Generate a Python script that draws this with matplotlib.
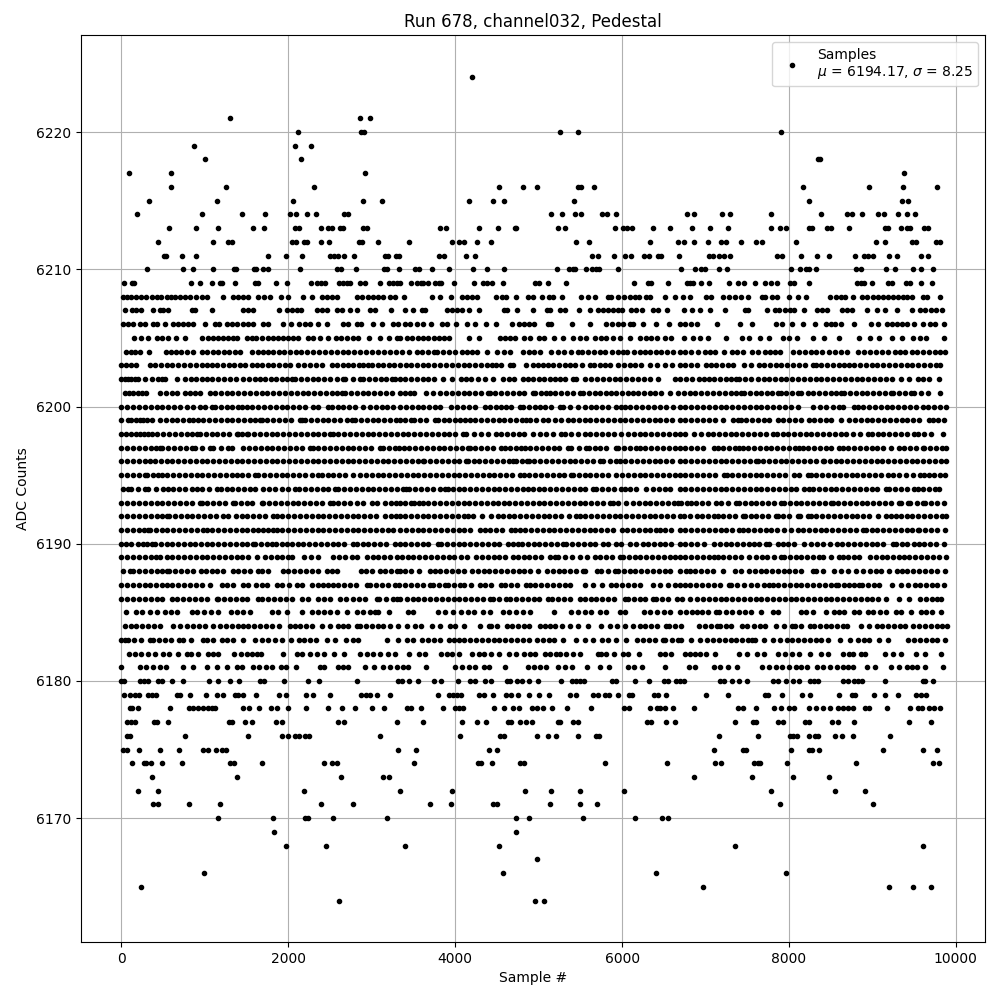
import numpy as np
import matplotlib
matplotlib.use("Agg")
import matplotlib.pyplot as plt

# sample numbers, one list per ADC level
# dense rows are resolved only to about one marker width
x_6224 = [4196]
x_6221 = [1304, 2856, 2984]
x_6220 = [2120, 2868, 2912, 5256, 5472, 7908]
x_6219 = [872, 2084, 2276]
x_6218 = [1004, 2156, 8352, 8376]
x_6217 = [92, 596, 2924, 9384]
x_6216 = [596, 1256, 2312, 4520, 4808, 4976, 5472, 5508, 5664, 8172, 8964, 9372, 9780]
x_6215 = [332, 1148, 2060, 2900, 3128, 4160, 4448, 4580, 5424, 8244, 9360, 9432]
x_6214 = [188, 968, 1448, 1724, 2024, 2096, 2228, 2336, 2672, 2712, 5144, 5280, 5436, 5508, 5760, 5820, 5928, 6780, 6864, 7200, 7296, 7788, 8388, 8700, 8760, 8880, 9072, 9144, 9312, 9420, 9516]
x_6213 = [572, 896, 1160, 1580, 1712, 2084, 2132, 2396, 2480, 2528, 2624, 2660, 2900, 2940, 3812, 3884, 4280, 4508, 4712, 4728, 5232, 5316, 5916, 6012, 6060, 6120, 6372, 6576, 6840, 7056, 7272, 7788, 7896, 7968, 8244, 8280, 8460, 8508, 8724, 9156, 9192, 9348, 9420, 9456, 9624, 9672]
x_6212 = [440, 1100, 1280, 1328, 2048, 2096, 2192, 2228, 2396, 2492, 2852, 2888, 3080, 3452, 3956, 4040, 4100, 4256, 4424, 5448, 5604, 6336, 6672, 6744, 6864, 7032, 7188, 7248, 7428, 7608, 7680, 8088, 9048, 9156, 9480, 9528, 9768, 9816]
x_6211 = [512, 528, 728, 896, 1760, 1976, 2168, 2504, 2552, 2600, 2672, 2792, 3160, 3196, 3296, 3328, 3800, 3860, 4124, 4232, 5640, 5712, 5904, 6036, 6108, 6264, 6324, 6432, 6468, 6684, 7044, 7092, 7164, 7224, 7296, 7860, 7920, 8148, 8340, 8484, 8796, 8904, 8952, 9012, 9204, 9300, 9588, 9672]
x_6210 = [308, 740, 860, 1100, 1352, 1376, 1592, 1616, 1700, 1760, 2144, 2588, 2636, 2816, 3152, 3188, 3332, 3524, 3564, 3716, 3920, 4208, 4376, 4580, 5220, 5364, 5412, 5436, 5568, 5640, 5688, 5724, 5952, 6708, 6876, 6948, 6996, 7164, 7260, 8028, 8136, 8208, 8244, 8328, 8808, 8868, 9168, 9276, 9492, 9588, 9732]
x_6209 = [32, 128, 152, 836, 944, 1088, 1184, 1208, 1364, 1604, 1640, 1856, 1988, 2276, 2348, 2396, 2444, 2612, 2660, 2708, 2744, 2864, 2924, 3104, 3212, 3260, 3308, 3344, 3476, 3540, 3588, 3620, 3680, 3752, 3800, 3824, 3980, 4220, 4328, 4376, 4436, 4568, 4952, 5000, 5112, 5328, 6144, 6312, 6348, 6552, 6780, 6816, 6852, 6948, 7044, 7284, 7392, 7464, 7596, 7716, 7788, 7860, 8016, 8064, 8244, 8820, 8868, 8904, 9000, 9192, 9240, 9408, 9456, 9588, 9720]
x_6208 = [20, 70, 120, 172, 236, 300, 360, 420, 472, 540, 590, 640, 700, 760, 820, 890, 960, 1028, 1216, 1340, 1400, 1460, 1520, 1640, 1710, 1780, 1912, 2000, 2180, 2280, 2400, 2460, 2520, 2588, 2820, 2880, 2950, 3020, 3080, 3140, 3220, 3280, 3392, 3716, 3820, 3944, 4080, 4140, 4200, 4260, 4488, 4560, 4604, 4724, 4868, 4932, 5044, 5124, 5172, 5280, 5512, 5590, 5672, 5832, 5872, 5952, 6020, 6090, 6152, 6204, 6292, 6340, 6516, 6636, 6732, 6816, 7004, 7068, 7212, 7280, 7350, 7420, 7512, 7680, 7716, 7800, 7852, 8004, 8112, 8208, 8492, 8560, 8620, 8672, 8772, 8880, 8932, 9012, 9070, 9130, 9190, 9250, 9310, 9370, 9420, 9472, 9612, 9660, 9816]
x_6207 = [44, 128, 180, 240, 380, 460, 500, 560, 840, 880, 1080, 1460, 1520, 1572, 1892, 1988, 2040, 2100, 2148, 2340, 2400, 2460, 2580, 2640, 2740, 2820, 2980, 3040, 3236, 3400, 3492, 3600, 3640, 3900, 3960, 4020, 4080, 4160, 4280, 4580, 4620, 4736, 4932, 5100, 5140, 5252, 5312, 5484, 5612, 5712, 5772, 5832, 5892, 5950, 6004, 6104, 6172, 6244, 6372, 6432, 6536, 6744, 6840, 6932, 7052, 7232, 7472, 7512, 7736, 7832, 7884, 7952, 8012, 8064, 8184, 8332, 8392, 8460, 8632, 8692, 8752, 8932, 9052, 9152, 9292, 9472, 9572, 9632, 9700, 9760, 9832]
x_6206 = [20, 80, 140, 220, 280, 380, 428, 524, 612, 676, 740, 800, 860, 1004, 1120, 1172, 1260, 1320, 1388, 1460, 1520, 1572, 1692, 1760, 1940, 2036, 2124, 2200, 2260, 2360, 2468, 2660, 2720, 2820, 2876, 3020, 3128, 3252, 3320, 3400, 3460, 3540, 3620, 3708, 3840, 3900, 4004, 4140, 4232, 4364, 4488, 4676, 4760, 4820, 4880, 4948, 5112, 5152, 5404, 5612, 5812, 5880, 5950, 6012, 6092, 6132, 6252, 6408, 6564, 6692, 6760, 6832, 6900, 7132, 7412, 7552, 7848, 7920, 8040, 8172, 8312, 8444, 8500, 8552, 8624, 8784, 8988, 9072, 9180, 9240, 9300, 9360, 9412, 9504, 9612, 9692, 9752, 9864]
x_6205 = [152, 236, 320, 428, 480, 560, 652, 760, 968, 1040, 1100, 1160, 1220, 1280, 1340, 1380, 1500, 1560, 1612, 1680, 1760, 1820, 1880, 1940, 2000, 2060, 2120, 2240, 2300, 2380, 2480, 2568, 2628, 2708, 2780, 2840, 2964, 3100, 3212, 3300, 3340, 3420, 3480, 3560, 3620, 3680, 3740, 3800, 3860, 3920, 4160, 4280, 4540, 4600, 4652, 4720, 4820, 4892, 5000, 5064, 5184, 5292, 5412, 5492, 5572, 5676, 5752, 5812, 5892, 5980, 6092, 6212, 6292, 6352, 6420, 6512, 6592, 6744, 6852, 6932, 7032, 7240, 7432, 7524, 7656, 7764, 7932, 8004, 8100, 8292, 8420, 8604, 8844, 8972, 9084, 9240, 9352, 9492, 9572, 9648, 9864]
x_6204 = [60, 110, 165, 220, 332, 528, 590, 650, 715, 780, 852, 960, 1030, 1095, 1160, 1225, 1290, 1355, 1420, 1560, 1640, 1700, 1760, 1820, 1885, 1950, 2020, 2090, 2155, 2220, 2300, 2370, 2440, 2510, 2585, 2660, 2720, 2790, 2860, 2930, 3005, 3075, 3150, 3220, 3288, 3360, 3450, 3540, 3600, 3670, 3740, 3780, 3850, 3920, 4000, 4080, 4140, 4200, 4260, 4380, 4500, 4580, 4660, 4812, 4880, 4950, 5012, 5152, 5230, 5310, 5390, 5472, 5520, 5590, 5660, 5730, 5792, 5884, 5950, 6012, 6060, 6144, 6210, 6275, 6340, 6405, 6472, 6540, 6612, 6692, 6752, 6830, 6912, 6992, 7050, 7112, 7224, 7312, 7380, 7452, 7552, 7630, 7712, 7772, 7830, 7892, 8052, 8120, 8190, 8260, 8330, 8400, 8475, 8550, 8620, 8692, 8832, 8900, 8970, 9040, 9115, 9192, 9272, 9330, 9392, 9472, 9540, 9610, 9680, 9750, 9810, 9872]
x_6203 = [0, 60, 120, 180, 340, 405, 470, 540, 610, 680, 750, 820, 890, 960, 1030, 1085, 1140, 1220, 1285, 1350, 1415, 1480, 1560, 1625, 1690, 1755, 1820, 1890, 1955, 2020, 2120, 2190, 2260, 2330, 2400, 2520, 2585, 2650, 2715, 2780, 2845, 2900, 2960, 3000, 3070, 3135, 3205, 3270, 3340, 3405, 3470, 3540, 3610, 3680, 3745, 3812, 3892, 3960, 4030, 4100, 4170, 4240, 4310, 4380, 4440, 4492, 4552, 4652, 4692, 4852, 4932, 4992, 5050, 5112, 5172, 5240, 5312, 5372, 5432, 5520, 5612, 5660, 5732, 5790, 5852, 5952, 6020, 6090, 6160, 6230, 6332, 6420, 6512, 6600, 6692, 6760, 6830, 6900, 7004, 7064, 7130, 7200, 7264, 7332, 7464, 7550, 7644, 7704, 7770, 7840, 7910, 7980, 8050, 8120, 8190, 8284, 8324, 8390, 8460, 8530, 8600, 8664, 8724, 8784, 8850, 8920, 8990, 9060, 9130, 9200, 9270, 9340, 9410, 9480, 9550, 9620, 9690, 9764, 9808]
x_6202 = [0, 40, 80, 120, 160, 200, 280, 360, 440, 480, 520, 668, 760, 830, 895, 960, 1020, 1090, 1160, 1230, 1300, 1372, 1452, 1525, 1600, 1660, 1725, 1790, 1855, 1920, 1980, 2040, 2080, 2150, 2220, 2290, 2360, 2430, 2500, 2580, 2660, 2680, 2770, 2860, 2900, 2970, 3040, 3110, 3175, 3240, 3280, 3340, 3400, 3470, 3540, 3610, 3680, 3750, 3852, 3960, 4072, 4130, 4192, 4272, 4352, 4452, 4572, 4640, 4710, 4812, 4872, 4932, 5000, 5070, 5140, 5200, 5252, 5312, 5412, 5452, 5552, 5632, 5700, 5770, 5840, 5910, 5980, 6050, 6120, 6190, 6260, 6330, 6432, 6632, 6692, 6764, 6840, 6924, 6984, 7044, 7104, 7170, 7240, 7300, 7364, 7404, 7470, 7544, 7624, 7704, 7764, 7830, 7900, 7970, 8040, 8110, 8180, 8250, 8320, 8390, 8460, 8530, 8600, 8670, 8740, 8810, 8880, 8950, 9020, 9090, 9160, 9230, 9344, 9436, 9544, 9610, 9680, 9804]
x_6201 = [40, 90, 140, 200, 250, 300, 460, 530, 600, 660, 760, 820, 880, 940, 1060, 1120, 1190, 1260, 1330, 1400, 1470, 1540, 1610, 1680, 1750, 1820, 1890, 1960, 2030, 2100, 2170, 2240, 2310, 2380, 2450, 2520, 2580, 2640, 2680, 2750, 2820, 2890, 2960, 3030, 3100, 3170, 3240, 3340, 3400, 3460, 3512, 3652, 3732, 3812, 3892, 3960, 4030, 4100, 4170, 4240, 4310, 4392, 4412, 4480, 4550, 4620, 4690, 4760, 4830, 4932, 4960, 5030, 5092, 5132, 5200, 5270, 5340, 5410, 5492, 5532, 5600, 5670, 5740, 5810, 5872, 5932, 6000, 6070, 6132, 6192, 6260, 6330, 6400, 6470, 6572, 6676, 6744, 6810, 6880, 6950, 7020, 7090, 7160, 7230, 7300, 7370, 7424, 7464, 7530, 7600, 7670, 7740, 7800, 7864, 7904, 7970, 8040, 8104, 8144, 8224, 8290, 8360, 8430, 8500, 8570, 8624, 8664, 8730, 8800, 8870, 8940, 9010, 9080, 9150, 9224, 9252, 9320, 9390, 9464, 9504, 9580, 9664, 9812]
x_6200 = [0, 70, 140, 210, 280, 350, 420, 490, 560, 630, 700, 788, 860, 940, 1000, 1080, 1120, 1190, 1260, 1330, 1400, 1440, 1500, 1570, 1640, 1710, 1780, 1850, 1920, 1990, 2060, 2130, 2200, 2300, 2360, 2472, 2520, 2590, 2660, 2730, 2800, 2900, 2980, 3050, 3120, 3180, 3260, 3340, 3410, 3480, 3550, 3620, 3690, 3760, 3812, 3952, 4020, 4090, 4160, 4232, 4352, 4420, 4490, 4550, 4612, 4672, 4772, 4812, 4880, 4952, 5012, 5080, 5150, 5252, 5292, 5380, 5472, 5552, 5632, 5692, 5760, 5830, 5932, 5992, 6032, 6100, 6170, 6240, 6310, 6380, 6452, 6532, 6610, 6692, 6760, 6830, 6900, 6970, 7040, 7110, 7180, 7250, 7320, 7390, 7460, 7530, 7600, 7670, 7740, 7810, 7880, 7950, 8020, 8104, 8292, 8370, 8450, 8530, 8604, 8652, 8784, 8824, 8890, 8960, 9030, 9100, 9170, 9240, 9310, 9380, 9450, 9520, 9604, 9664, 9740, 9810, 9884]
x_6199 = [0, 80, 120, 170, 220, 260, 310, 360, 460, 530, 600, 670, 740, 810, 860, 920, 980, 1050, 1120, 1190, 1260, 1330, 1400, 1470, 1540, 1600, 1660, 1680, 1750, 1820, 1890, 1960, 2030, 2140, 2160, 2200, 2270, 2340, 2410, 2480, 2550, 2620, 2700, 2760, 2800, 2870, 2940, 3010, 3080, 3150, 3220, 3290, 3340, 3400, 3472, 3512, 3580, 3650, 3752, 3792, 3860, 3930, 4000, 4060, 4112, 4172, 4240, 4310, 4380, 4450, 4520, 4590, 4660, 4730, 4800, 4852, 4892, 4970, 5052, 5112, 5192, 5270, 5352, 5412, 5480, 5550, 5620, 5690, 5760, 5830, 5900, 5970, 6040, 6110, 6180, 6250, 6320, 6390, 6460, 6530, 6600, 6692, 6760, 6830, 6900, 6970, 7040, 7110, 7204, 7324, 7384, 7424, 7490, 7560, 7630, 7700, 7764, 7864, 7930, 8000, 8070, 8140, 8244, 8304, 8370, 8440, 8510, 8624, 8724, 8790, 8860, 8930, 9000, 9070, 9140, 9210, 9280, 9350, 9420, 9490, 9560, 9684, 9724, 9790, 9864]
x_6198 = [0, 60, 120, 180, 220, 270, 320, 360, 430, 500, 570, 640, 710, 780, 840, 900, 940, 1010, 1080, 1150, 1220, 1290, 1380, 1400, 1450, 1500, 1520, 1590, 1660, 1730, 1800, 1870, 1940, 2010, 2080, 2150, 2220, 2290, 2360, 2430, 2500, 2530, 2600, 2670, 2740, 2810, 2880, 2950, 3020, 3090, 3160, 3230, 3300, 3370, 3440, 3510, 3580, 3650, 3720, 3790, 3860, 3930, 4000, 4092, 4132, 4220, 4312, 4392, 4484, 4550, 4620, 4690, 4760, 4830, 4932, 5012, 5092, 5172, 5272, 5312, 5390, 5472, 5552, 5620, 5690, 5760, 5830, 5900, 5992, 6072, 6140, 6210, 6280, 6350, 6420, 6490, 6560, 6630, 6692, 6760, 6864, 6952, 7024, 7090, 7160, 7230, 7300, 7370, 7440, 7510, 7580, 7650, 7720, 7804, 7852, 7924, 7990, 8060, 8130, 8200, 8270, 8340, 8410, 8480, 8550, 8620, 8684, 8764, 8850, 8944, 8996, 9064, 9130, 9200, 9270, 9340, 9410, 9504, 9544, 9620, 9704, 9844]
x_6197 = [0, 70, 140, 210, 280, 350, 410, 460, 490, 560, 630, 700, 770, 840, 880, 970, 1060, 1100, 1190, 1280, 1320, 1460, 1530, 1600, 1670, 1740, 1810, 1880, 1950, 2020, 2090, 2160, 2260, 2290, 2360, 2430, 2500, 2570, 2640, 2710, 2780, 2850, 2920, 2990, 3100, 3140, 3210, 3280, 3332, 3392, 3452, 3520, 3590, 3660, 3730, 3800, 3870, 3940, 4010, 4080, 4152, 4172, 4240, 4310, 4380, 4450, 4552, 4592, 4660, 4730, 4792, 4832, 4900, 4970, 5040, 5110, 5180, 5250, 5352, 5392, 5480, 5572, 5604, 5670, 5740, 5810, 5932, 5952, 6020, 6090, 6172, 6212, 6280, 6350, 6420, 6490, 6560, 6630, 6692, 6760, 6830, 6900, 6970, 7104, 7144, 7210, 7280, 7350, 7404, 7444, 7510, 7580, 7650, 7720, 7790, 7860, 7930, 8000, 8070, 8124, 8164, 8230, 8300, 8370, 8440, 8510, 8604, 8644, 8710, 8780, 8850, 8920, 8990, 9060, 9130, 9224, 9316, 9380, 9450, 9520, 9604, 9624, 9690, 9760, 9830, 9884]
x_6196 = [0, 70, 140, 210, 280, 340, 400, 470, 540, 610, 680, 750, 820, 890, 960, 1030, 1100, 1170, 1240, 1310, 1380, 1450, 1520, 1590, 1660, 1730, 1800, 1870, 1940, 2010, 2080, 2150, 2220, 2290, 2360, 2430, 2500, 2570, 2640, 2710, 2780, 2850, 2920, 2990, 3060, 3130, 3200, 3270, 3340, 3410, 3480, 3550, 3612, 3632, 3700, 3770, 3840, 3910, 3980, 4050, 4132, 4152, 4220, 4290, 4360, 4430, 4500, 4570, 4640, 4692, 4732, 4800, 4860, 4884, 4950, 5020, 5090, 5160, 5230, 5300, 5370, 5440, 5510, 5580, 5650, 5732, 5772, 5850, 5932, 5972, 6040, 6110, 6180, 6250, 6320, 6390, 6460, 6530, 6600, 6692, 6760, 6830, 6900, 6970, 7040, 7110, 7180, 7250, 7320, 7390, 7460, 7530, 7604, 7624, 7690, 7760, 7830, 7900, 7970, 8040, 8110, 8180, 8250, 8320, 8404, 8424, 8490, 8560, 8630, 8700, 8770, 8840, 8910, 8980, 9050, 9120, 9190, 9260, 9330, 9400, 9470, 9540, 9610, 9680, 9750, 9820, 9884]
x_6195 = [0, 70, 140, 210, 280, 310, 375, 440, 480, 550, 620, 690, 760, 830, 900, 970, 1040, 1110, 1180, 1250, 1320, 1380, 1440, 1520, 1600, 1640, 1710, 1780, 1850, 1920, 1990, 2060, 2130, 2200, 2280, 2360, 2400, 2470, 2540, 2610, 2680, 2780, 2860, 2930, 3000, 3070, 3140, 3210, 3280, 3350, 3420, 3490, 3560, 3630, 3700, 3770, 3840, 3910, 3980, 4050, 4120, 4190, 4260, 4330, 4400, 4470, 4540, 4610, 4680, 4772, 4824, 4890, 4960, 5030, 5100, 5170, 5240, 5310, 5392, 5412, 5480, 5550, 5620, 5690, 5760, 5830, 5932, 6000, 6070, 6140, 6210, 6280, 6350, 6420, 6490, 6560, 6630, 6692, 6760, 6830, 6900, 6970, 7040, 7110, 7224, 7252, 7320, 7390, 7460, 7530, 7600, 7670, 7740, 7810, 7880, 7950, 8064, 8116, 8224, 8264, 8330, 8400, 8470, 8540, 8610, 8680, 8750, 8820, 8890, 8960, 9030, 9100, 9192, 9244, 9320, 9400, 9490, 9572, 9624, 9684, 9744, 9810, 9876]
x_6194 = [20, 80, 120, 200, 280, 320, 410, 500, 552, 620, 690, 760, 840, 900, 970, 1050, 1140, 1188, 1260, 1330, 1400, 1470, 1540, 1600, 1700, 1770, 1840, 1920, 2000, 2080, 2128, 2200, 2270, 2340, 2410, 2480, 2560, 2600, 2670, 2740, 2810, 2880, 2950, 3020, 3090, 3160, 3230, 3300, 3370, 3412, 3452, 3520, 3590, 3660, 3730, 3812, 3872, 3912, 3972, 4040, 4110, 4180, 4250, 4320, 4390, 4460, 4530, 4600, 4670, 4740, 4810, 4872, 4932, 5000, 5070, 5140, 5210, 5280, 5350, 5420, 5490, 5560, 5652, 5692, 5760, 5830, 5900, 5992, 6032, 6100, 6170, 6292, 6372, 6440, 6510, 6580, 6692, 6760, 6830, 6900, 6970, 7040, 7110, 7180, 7250, 7320, 7390, 7460, 7530, 7600, 7670, 7740, 7810, 7880, 7950, 8020, 8090, 8184, 8244, 8284, 8364, 8430, 8500, 8570, 8640, 8710, 8780, 8850, 8920, 8990, 9060, 9164, 9196, 9270, 9340, 9410, 9504, 9544, 9610, 9680, 9750, 9804]
x_6193 = [0, 70, 140, 210, 280, 350, 420, 490, 560, 630, 700, 770, 840, 940, 960, 1030, 1100, 1170, 1240, 1340, 1360, 1430, 1500, 1570, 1680, 1700, 1770, 1840, 1910, 1980, 2050, 2120, 2190, 2260, 2330, 2400, 2500, 2530, 2600, 2670, 2740, 2820, 2900, 3000, 3060, 3160, 3230, 3292, 3340, 3400, 3472, 3512, 3572, 3612, 3680, 3750, 3820, 3890, 3960, 4030, 4100, 4170, 4240, 4310, 4380, 4452, 4512, 4580, 4650, 4720, 4790, 4860, 4930, 5000, 5070, 5140, 5210, 5280, 5350, 5420, 5490, 5560, 5630, 5700, 5770, 5852, 5892, 5952, 6052, 6132, 6204, 6270, 6340, 6410, 6480, 6550, 6620, 6672, 6704, 6784, 6824, 6890, 6960, 7030, 7124, 7184, 7270, 7364, 7404, 7470, 7540, 7610, 7680, 7750, 7820, 7904, 7944, 8010, 8080, 8150, 8220, 8290, 8360, 8430, 8504, 8524, 8590, 8660, 8730, 8800, 8870, 8940, 9010, 9080, 9150, 9220, 9316, 9344, 9424, 9452, 9530, 9604, 9636, 9700, 9770, 9864]
x_6192 = [0, 70, 140, 210, 280, 350, 420, 480, 540, 572, 640, 710, 780, 850, 920, 990, 1060, 1130, 1220, 1280, 1372, 1440, 1510, 1580, 1650, 1720, 1820, 1860, 1930, 2000, 2070, 2140, 2210, 2280, 2350, 2420, 2490, 2560, 2630, 2700, 2770, 2840, 2910, 2980, 3050, 3160, 3228, 3290, 3340, 3400, 3470, 3540, 3610, 3680, 3750, 3820, 3890, 3960, 4030, 4100, 4152, 4212, 4320, 4432, 4512, 4572, 4640, 4710, 4780, 4850, 4920, 4990, 5060, 5130, 5192, 5272, 5360, 5444, 5492, 5560, 5630, 5700, 5770, 5840, 5910, 5980, 6050, 6120, 6190, 6260, 6330, 6400, 6470, 6540, 6610, 6692, 6744, 6810, 6904, 6964, 7030, 7104, 7144, 7210, 7280, 7350, 7444, 7476, 7540, 7610, 7680, 7750, 7844, 7864, 7930, 8000, 8104, 8132, 8224, 8264, 8330, 8400, 8470, 8540, 8610, 8680, 8750, 8820, 8890, 8960, 9064, 9164, 9224, 9284, 9344, 9410, 9480, 9550, 9620, 9690, 9760, 9830, 9884]
x_6191 = [0, 70, 140, 210, 270, 320, 340, 410, 480, 550, 620, 690, 760, 830, 900, 980, 1020, 1090, 1160, 1230, 1300, 1370, 1440, 1510, 1580, 1640, 1700, 1760, 1820, 1860, 1930, 2000, 2070, 2140, 2210, 2280, 2350, 2420, 2490, 2560, 2630, 2700, 2770, 2840, 2910, 2980, 3050, 3120, 3190, 3260, 3340, 3410, 3480, 3550, 3620, 3690, 3760, 3830, 3900, 3970, 4040, 4110, 4180, 4292, 4352, 4420, 4490, 4560, 4672, 4716, 4772, 4840, 4910, 4980, 5050, 5120, 5190, 5260, 5330, 5400, 5470, 5540, 5610, 5680, 5750, 5820, 5890, 6004, 6060, 6130, 6200, 6270, 6340, 6412, 6452, 6520, 6590, 6692, 6760, 6830, 6900, 6970, 7040, 7110, 7180, 7250, 7320, 7404, 7444, 7510, 7580, 7650, 7720, 7790, 7860, 7944, 8024, 8104, 8170, 8240, 8310, 8380, 8450, 8520, 8590, 8660, 8730, 8800, 8884, 8924, 8990, 9060, 9130, 9200, 9270, 9340, 9410, 9480, 9544, 9564, 9630, 9700, 9770, 9876]
x_6190 = [0, 60, 120, 200, 260, 310, 360, 400, 470, 540, 610, 680, 750, 820, 880, 950, 1020, 1090, 1160, 1230, 1300, 1370, 1440, 1510, 1580, 1600, 1670, 1740, 1800, 1852, 1920, 1980, 2040, 2110, 2180, 2250, 2320, 2390, 2460, 2530, 2600, 2670, 2780, 2820, 2890, 2960, 3030, 3100, 3170, 3280, 3340, 3400, 3470, 3540, 3610, 3680, 3792, 3832, 3900, 3970, 4040, 4110, 4180, 4250, 4320, 4390, 4460, 4530, 4632, 4692, 4752, 4804, 4870, 4940, 5010, 5080, 5150, 5220, 5292, 5332, 5400, 5470, 5540, 5610, 5680, 5772, 5832, 5924, 5990, 6092, 6164, 6252, 6312, 6380, 6450, 6520, 6590, 6692, 6760, 6830, 6900, 6984, 7104, 7170, 7240, 7310, 7380, 7450, 7520, 7584, 7636, 7724, 7756, 7864, 7924, 7990, 8060, 8184, 8264, 8340, 8412, 8492, 8576, 8640, 8710, 8780, 8850, 8920, 8990, 9060, 9130, 9244, 9284, 9350, 9420, 9504, 9556, 9620, 9690, 9760, 9864]
x_6189 = [0, 70, 140, 210, 280, 350, 410, 460, 540, 610, 680, 750, 820, 890, 960, 1030, 1100, 1170, 1240, 1310, 1380, 1450, 1520, 1620, 1720, 1790, 1860, 1930, 2000, 2040, 2190, 2270, 2360, 2540, 2610, 2680, 2760, 2828, 2940, 3010, 3080, 3150, 3220, 3300, 3360, 3430, 3500, 3570, 3640, 3710, 3780, 3850, 3920, 3990, 4072, 4140, 4252, 4320, 4390, 4460, 4530, 4600, 4692, 4752, 4820, 4890, 4960, 5030, 5132, 5192, 5232, 5312, 5400, 5492, 5580, 5672, 5740, 5810, 5880, 5972, 6012, 6080, 6150, 6220, 6290, 6360, 6430, 6500, 6570, 6640, 6692, 6760, 6830, 6900, 6970, 7040, 7104, 7144, 7210, 7280, 7350, 7420, 7524, 7604, 7676, 7740, 7820, 7904, 7944, 8010, 8080, 8150, 8220, 8290, 8364, 8412, 8500, 8604, 8644, 8710, 8780, 8844, 8972, 9044, 9110, 9180, 9250, 9320, 9384, 9444, 9510, 9580, 9650, 9724, 9796, 9884]
x_6188 = [20, 100, 140, 210, 280, 350, 420, 490, 540, 572, 640, 710, 780, 860, 948, 1010, 1080, 1150, 1220, 1340, 1400, 1470, 1540, 1632, 1690, 1752, 1932, 2000, 2070, 2140, 2210, 2280, 2350, 2460, 2520, 2580, 2868, 2930, 3000, 3100, 3160, 3230, 3300, 3340, 3400, 3470, 3572, 3700, 3752, 3820, 3890, 3960, 4030, 4100, 4204, 4272, 4340, 4410, 4480, 4550, 4620, 4690, 4760, 4830, 4900, 4992, 5100, 5170, 5240, 5310, 5380, 5450, 5532, 5552, 5700, 5752, 5830, 5912, 5952, 6020, 6090, 6160, 6230, 6300, 6370, 6440, 6510, 6580, 6692, 6764, 6812, 6880, 6950, 7020, 7090, 7204, 7352, 7424, 7516, 7590, 7660, 7730, 7800, 7870, 7944, 7996, 8070, 8140, 8284, 8324, 8412, 8544, 8620, 8704, 8804, 8890, 8972, 9044, 9104, 9200, 9292, 9352, 9420, 9490, 9560, 9630, 9700, 9770, 9876]
x_6187 = [0, 70, 140, 210, 280, 340, 410, 480, 540, 610, 680, 750, 820, 890, 960, 1060, 1200, 1270, 1340, 1460, 1520, 1612, 1680, 1750, 1860, 1920, 2010, 2100, 2168, 2280, 2350, 2420, 2480, 2540, 2600, 2670, 2740, 2810, 2940, 2980, 3050, 3120, 3190, 3280, 3332, 3400, 3470, 3540, 3610, 3692, 3732, 3800, 3872, 3912, 3980, 4052, 4100, 4192, 4292, 4360, 4430, 4552, 4600, 4670, 4740, 4852, 4892, 4960, 5030, 5100, 5170, 5240, 5312, 5380, 5560, 5652, 5764, 5872, 5932, 6000, 6070, 6140, 6212, 6372, 6450, 6552, 6632, 6692, 6750, 6820, 6890, 6960, 7030, 7100, 7170, 7284, 7304, 7380, 7464, 7540, 7620, 7704, 7764, 7804, 7870, 7940, 8010, 8080, 8150, 8220, 8290, 8360, 8430, 8500, 8564, 8584, 8664, 8716, 8780, 8836, 8876, 8950, 9020, 9084, 9236, 9344, 9424, 9516, 9572, 9640, 9710, 9780, 9864]
x_6186 = [0, 70, 140, 210, 280, 350, 420, 490, 600, 670, 740, 810, 880, 950, 1020, 1140, 1160, 1230, 1300, 1370, 1440, 1510, 1640, 1688, 1760, 1830, 1900, 1970, 2040, 2160, 2240, 2360, 2430, 2500, 2620, 2688, 2780, 2850, 2920, 3060, 3092, 3170, 3260, 3300, 3340, 3420, 3490, 3560, 3630, 3700, 3770, 3840, 3910, 3980, 4050, 4120, 4190, 4260, 4330, 4412, 4452, 4530, 4612, 4660, 4730, 4800, 4870, 4940, 5010, 5112, 5160, 5230, 5300, 5370, 5492, 5552, 5632, 5692, 5760, 5830, 5900, 6032, 6072, 6140, 6210, 6280, 6372, 6412, 6480, 6550, 6660, 6724, 6812, 6904, 6970, 7040, 7110, 7180, 7250, 7320, 7390, 7460, 7530, 7600, 7670, 7740, 7810, 7880, 7950, 8020, 8090, 8160, 8230, 8300, 8370, 8440, 8510, 8580, 8650, 8720, 8790, 8860, 8930, 9000, 9070, 9164, 9316, 9436, 9572, 9640, 9710, 9780, 9824]
x_6185 = [60, 180, 252, 340, 420, 520, 590, 660, 840, 910, 990, 1070, 1160, 1308, 1380, 1460, 1540, 1800, 1880, 1980, 2160, 2280, 2350, 2430, 2500, 2588, 2700, 2820, 2900, 2980, 3040, 3080, 3212, 3432, 3492, 3792, 3880, 3972, 4072, 4150, 4220, 4332, 4412, 4572, 4650, 4730, 4810, 4892, 5180, 5392, 5470, 5552, 5632, 5732, 5804, 5972, 6032, 6260, 6340, 6420, 6500, 6580, 6692, 6764, 6844, 6904, 6960, 7024, 7124, 7164, 7244, 7320, 7400, 7470, 7544, 7664, 7804, 7864, 8144, 8204, 8284, 8444, 8544, 8604, 8664, 8784, 8844, 8944, 9012, 9090, 9160, 9284, 9344, 9464, 9584, 9644, 9720, 9824]
x_6184 = [40, 110, 180, 250, 320, 390, 460, 612, 700, 780, 860, 930, 1000, 1092, 1180, 1250, 1320, 1400, 1452, 1520, 1590, 1660, 1730, 1800, 1892, 2020, 2080, 2140, 2210, 2280, 2400, 2500, 2600, 2660, 2720, 2820, 2860, 2930, 3000, 3070, 3140, 3220, 3320, 3420, 3520, 3588, 3716, 3820, 3940, 4000, 4100, 4300, 4400, 4428, 4500, 4620, 4680, 4750, 4820, 4890, 5012, 5072, 5132, 5192, 5280, 5372, 5472, 5592, 5752, 5850, 5940, 6040, 6132, 6212, 6280, 6350, 6420, 6532, 6564, 6640, 6712, 6924, 7000, 7070, 7132, 7172, 7240, 7310, 7432, 7500, 7580, 7652, 7716, 7844, 7940, 8032, 8072, 8150, 8252, 8300, 8370, 8440, 8510, 8580, 8652, 8700, 8868, 8964, 9052, 9120, 9190, 9260, 9330, 9392, 9492, 9560, 9630, 9700, 9770, 9840, 9892]
x_6183 = [0, 40, 80, 152, 240, 340, 380, 452, 520, 590, 692, 740, 836, 980, 1028, 1100, 1200, 1268, 1340, 1452, 1600, 1680, 1760, 1840, 1928, 2036, 2124, 2188, 2260, 2330, 2460, 2560, 2692, 2780, 2840, 3188, 3320, 3420, 3500, 3608, 3680, 3750, 3812, 3920, 3980, 4040, 4110, 4180, 4250, 4320, 4390, 4460, 4530, 4600, 4670, 4740, 4810, 4880, 4980, 5050, 5120, 5190, 5292, 5452, 5550, 5652, 5764, 5832, 5932, 6052, 6180, 6252, 6324, 6400, 6492, 6520, 6600, 6672, 6712, 6824, 6932, 7020, 7092, 7160, 7230, 7300, 7370, 7440, 7512, 7552, 7592, 7704, 7812, 7892, 7972, 8040, 8110, 8180, 8250, 8320, 8390, 8472, 8612, 8732, 8832, 8904, 8964, 9084, 9192, 9432, 9500, 9570, 9640, 9710, 9780, 9872]
x_6182 = [92, 160, 240, 320, 400, 500, 572, 680, 780, 828, 920, 1040, 1100, 1160, 1352, 1436, 1500, 1560, 1620, 1676, 1940, 2100, 2160, 2260, 2340, 2428, 2552, 2672, 2860, 2940, 3020, 3100, 3190, 3280, 3448, 3572, 3644, 3828, 3900, 3960, 4040, 4200, 4280, 4340, 4430, 4520, 4640, 4730, 4820, 4900, 4952, 5072, 5132, 5204, 5252, 5330, 5410, 5492, 5712, 5752, 5812, 5900, 6012, 6072, 6200, 6452, 6520, 6592, 6752, 6812, 6872, 6940, 7004, 7116, 7400, 7500, 7620, 7704, 7872, 7950, 8040, 8124, 8252, 8380, 8464, 8652, 8724, 8772, 8860, 8912, 9152, 9250, 9340, 9524, 9636, 9828]
x_6181 = [0, 220, 300, 380, 460, 532, 740, 860, 1028, 1148, 1268, 1380, 1440, 1572, 1650, 1732, 1808, 1912, 1968, 2088, 2380, 2428, 2600, 2660, 2720, 2924, 3032, 3140, 3220, 3300, 3370, 3440, 3656, 4000, 4080, 4160, 4240, 4340, 4400, 4592, 4872, 4950, 5020, 5092, 5232, 5320, 5404, 5580, 5736, 5844, 6072, 6144, 6240, 6516, 6804, 6880, 7104, 7172, 7270, 7372, 7680, 7764, 7840, 7920, 8000, 8080, 8150, 8212, 8340, 8412, 8490, 8572, 8652, 8710, 8772, 8932, 9036, 9228, 9324, 9412, 9470, 9532, 9636, 9852]
x_6180 = [0, 28, 224, 272, 320, 440, 488, 608, 740, 1052, 1160, 1304, 1412, 1664, 1712, 1952, 2240, 2372, 2828, 3320, 3368, 3452, 3560, 3740, 3824, 4028, 4172, 4232, 4352, 4424, 4616, 4652, 4736, 4796, 4880, 4992, 5268, 5400, 5448, 5496, 5544, 5880, 5928, 6156, 6324, 6504, 6552, 6648, 6696, 6744, 7176, 7224, 7320, 7404, 7500, 7812, 7872, 7968, 8052, 8124, 8256, 8304, 8352, 8652, 8712, 8784, 8832, 8880, 9156, 9612, 9636, 9732]
x_6179 = [32, 104, 164, 212, 320, 368, 416, 668, 704, 824, 1016, 1148, 1220, 1364, 1400, 1460, 1616, 1892, 1976, 2216, 2300, 2504, 2876, 2936, 2984, 3068, 3224, 3788, 3920, 3968, 4016, 4064, 4280, 4340, 4448, 4604, 4664, 4748, 4880, 5000, 5124, 5376, 5448, 5652, 5712, 5796, 5844, 5952, 6084, 6120, 6384, 6432, 6528, 7008, 7272, 7716, 7752, 7920, 8160, 8256, 8604, 8760, 8796, 9024, 9156, 9312, 9528, 9588, 9648]
x_6178 = [104, 128, 200, 584, 812, 860, 920, 980, 1040, 1088, 1124, 1460, 1532, 1648, 1796, 1868, 2000, 2216, 2480, 2648, 2804, 3008, 3144, 3428, 3476, 3588, 3848, 3992, 4040, 4088, 4460, 4580, 4688, 4760, 4920, 4980, 5052, 5160, 5340, 5628, 6024, 6084, 6336, 6420, 6456, 6516, 6616, 6864, 7392, 7452, 7608, 7824, 7908, 8004, 8064, 8244, 8328, 8412, 8496, 8592, 8652, 8712, 8772, 8916, 8964, 9180, 9456, 9552, 9600, 9684, 9744, 9816]
x_6177 = [68, 116, 164, 392, 428, 560, 1292, 1328, 1484, 1568, 1856, 1928, 2600, 2672, 3308, 3620, 4076, 4256, 4364, 4628, 4664, 4772, 4844, 4920, 5232, 5256, 5412, 5472, 6300, 6348, 6528, 6636, 7356, 7572, 7608, 7872, 7932, 8196, 8244, 8520, 8592, 8784, 9444, 9708]
x_6176 = [68, 104, 764, 1520, 1928, 2000, 2084, 2132, 2204, 2252, 3104, 4052, 4532, 4580, 4976, 5112, 5208, 5472, 5688, 5724, 7164, 7632, 8016, 8052, 8100, 8244, 8316, 8352, 8556, 8640, 8772, 9216]
x_6175 = [20, 68, 212, 464, 692, 980, 1040, 1136, 1208, 1256, 3320, 3536, 4400, 4496, 7104, 7452, 7488, 8028, 8244, 8280, 8364, 9132, 9612, 9780]
x_6174 = [128, 272, 296, 356, 488, 728, 1304, 1352, 1688, 2432, 2528, 2588, 3512, 4268, 4304, 4436, 4772, 4820, 5796, 6540, 7116, 7188, 7584, 7632, 7656, 7980, 8808, 9732, 9796]
x_6173 = [368, 1388, 2636, 3140, 3212, 6864, 7560, 8052, 8484]
x_6172 = [200, 440, 2192, 3344, 3956, 4832, 5148, 5496, 6024, 7788, 8556, 8916]
x_6171 = [380, 440, 812, 1184, 2396, 2780, 3692, 3944, 4448, 4496, 5136, 5496, 5700, 7896, 9012]
x_6170 = [1160, 1820, 2204, 2240, 2540, 3188, 4724, 4880, 5532, 6156, 6480, 6552]
x_6169 = [1832, 4724]
x_6168 = [1976, 2456, 3404, 4520, 7356, 9612]
x_6167 = [4976]
x_6166 = [992, 4568, 6408, 7968]
x_6165 = [236, 6972, 9204, 9492, 9708]
x_6164 = [2612, 4952, 5064]

levels = [6224, 6221, 6220, 6219, 6218, 6217, 6216, 6215, 6214, 6213, 6212, 6211, 6210,
          6209, 6208, 6207, 6206, 6205, 6204, 6203, 6202, 6201, 6200, 6199, 6198, 6197,
          6196, 6195, 6194, 6193, 6192, 6191, 6190, 6189, 6188, 6187, 6186, 6185, 6184,
          6183, 6182, 6181, 6180, 6179, 6178, 6177, 6176, 6175, 6174, 6173, 6172, 6171,
          6170, 6169, 6168, 6167, 6166, 6165, 6164]
rows = [x_6224, x_6221, x_6220, x_6219, x_6218, x_6217, x_6216, x_6215, x_6214, x_6213, x_6212, x_6211, x_6210,
        x_6209, x_6208, x_6207, x_6206, x_6205, x_6204, x_6203, x_6202, x_6201, x_6200, x_6199, x_6198, x_6197,
        x_6196, x_6195, x_6194, x_6193, x_6192, x_6191, x_6190, x_6189, x_6188, x_6187, x_6186, x_6185, x_6184,
        x_6183, x_6182, x_6181, x_6180, x_6179, x_6178, x_6177, x_6176, x_6175, x_6174, x_6173, x_6172, x_6171,
        x_6170, x_6169, x_6168, x_6167, x_6166, x_6165, x_6164]

samples = np.concatenate([np.array(r) for r in rows])
counts = np.concatenate([np.full(len(r), lev) for r, lev in zip(rows, levels)])

fig, ax = plt.subplots(figsize=(10, 10), dpi=100)
ax.plot(samples, counts, '.', color='black', label='Samples\n$\\mu$ = 6194.17, $\\sigma$ = 8.25', zorder=3)
ax.set_xlim(-485, 10350)
ax.set_ylim(6160.98, 6227.07)
ax.set_xticks([0, 2000, 4000, 6000, 8000, 10000])
ax.set_yticks([6170, 6180, 6190, 6200, 6210, 6220])
ax.yaxis.set_major_formatter(plt.FormatStrFormatter('%d'))
ax.grid(True)
ax.set_title('Run 678, channel032, Pedestal')
ax.set_xlabel('Sample #')
ax.set_ylabel('ADC Counts')
ax.legend(loc='upper right')
fig.subplots_adjust(left=0.081, right=0.985, top=0.965, bottom=0.058)
plt.savefig('out.png')
